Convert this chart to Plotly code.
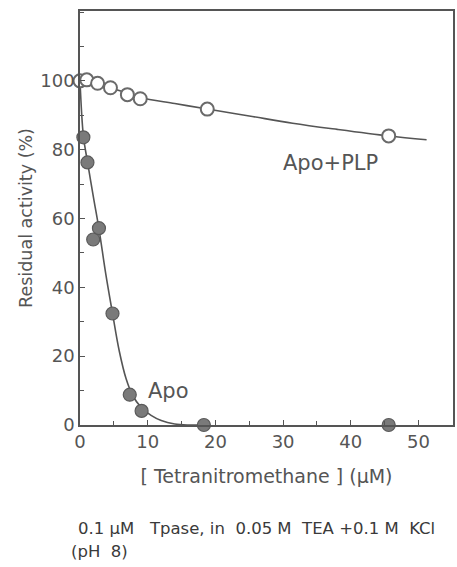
import plotly.graph_objects as go

# Apo + PLP (open circles)
plp_x = [0, 1.0, 2.6, 4.5, 7.0, 8.9, 18.8, 45.6]
plp_y = [100, 100.3, 99.3, 98.0, 96.0, 94.8, 91.8, 84.0]
plp_curve_x = [0, 1, 2.6, 4.5, 7, 9, 14, 18.8, 25, 31.4, 38, 45.6, 51.2]
plp_curve_y = [100, 100, 99.3, 98.0, 96.4, 95.1, 93.4, 91.8, 89.8, 87.7, 85.9, 84.0, 82.9]

# Apo (filled circles)
apo_x = [0.5, 1.1, 1.95, 2.8, 4.8, 7.35, 9.1, 18.3, 45.6]
apo_y = [83.6, 76.3, 53.9, 57.2, 32.4, 8.8, 4.1, 0, 0]
apo_curve_x = [0, 0.5, 1.1, 2.0, 2.8, 3.8, 4.8, 5.8, 6.8, 7.8, 9.0, 10.5, 12.0, 14.0, 16.0, 18.3]
apo_curve_y = [100, 84, 76.5, 66, 57, 44, 32.5, 21.5, 13.5, 8.5, 5.2, 2.8, 1.3, 0.3, 0, 0]

x_ticks = [0, 10, 20, 30, 40, 50]
y_ticks = [0, 20, 40, 60, 80, 100]

ink = "#555555"
font = "DejaVu Sans"

fig = go.Figure()
fig.add_trace(go.Scatter(x=plp_curve_x, y=plp_curve_y, mode="lines",
                         line=dict(color=ink, width=1.6, shape="spline"),
                         hoverinfo="skip", showlegend=False))
fig.add_trace(go.Scatter(x=apo_curve_x, y=apo_curve_y, mode="lines",
                         line=dict(color=ink, width=1.6, shape="spline"),
                         hoverinfo="skip", showlegend=False))
fig.add_trace(go.Scatter(x=plp_x, y=plp_y, mode="markers", cliponaxis=False,
                         marker=dict(symbol="circle", size=13, color="white",
                                     line=dict(color="#6a6a6a", width=2)),
                         showlegend=False))
fig.add_trace(go.Scatter(x=apo_x, y=apo_y, mode="markers", cliponaxis=False,
                         marker=dict(symbol="circle", size=13, color="#7a7a7a",
                                     line=dict(color="#5a5a5a", width=1.2)),
                         showlegend=False))

fig.add_annotation(x=37, y=76.2, text="Apo+PLP", showarrow=False,
                   font=dict(family=font, size=21, color=ink))
fig.add_annotation(x=13.1, y=10, text="Apo", showarrow=False,
                   font=dict(family=font, size=21, color=ink))

fig.add_annotation(xref="paper", yref="paper", x=-0.012, y=-0.250, xanchor="left",
                   yanchor="middle", showarrow=False,
                   text="0.1 \u03bcM\u00a0\u00a0\u00a0Tpase, in\u00a0 0.05 M\u00a0\u00a0TEA +0.1 M\u00a0\u00a0KCl",
                   font=dict(family=font, size=16.5, color="#3a3a3a"))
fig.add_annotation(xref="paper", yref="paper", x=-0.03, y=-0.305, xanchor="left",
                   yanchor="middle", showarrow=False,
                   text="(pH\u00a0\u00a08)",
                   font=dict(family=font, size=16.5, color="#3a3a3a"))

axis_common = dict(showgrid=False, zeroline=False, showline=True, linecolor=ink,
                   linewidth=1.5, mirror=True, ticks="inside", ticklen=5,
                   tickwidth=1.2, tickcolor=ink,
                   tickfont=dict(family=font, size=18, color=ink))

fig.update_xaxes(range=[0, 55.1], tickvals=x_ticks,
                 minor=dict(dtick=5, ticks="inside", ticklen=4, tickcolor=ink, tickwidth=1.2),
                 title=dict(text="[ Tetranitromethane ] (\u03bcM)",
                            font=dict(family=font, size=19, color=ink), standoff=18),
                 **axis_common)
fig.update_yaxes(range=[0, 120.3], tickvals=y_ticks,
                 minor=dict(dtick=10, ticks="inside", ticklen=4, tickcolor=ink, tickwidth=1.2),
                 title=dict(text="Residual activity (%)",
                            font=dict(family=font, size=17.5, color=ink), standoff=3),
                 **axis_common)

fig.update_layout(width=457, height=567, margin=dict(l=80, r=2, t=11, b=142),
                  plot_bgcolor="white", paper_bgcolor="white", showlegend=False)

fig.write_html("out.html")
